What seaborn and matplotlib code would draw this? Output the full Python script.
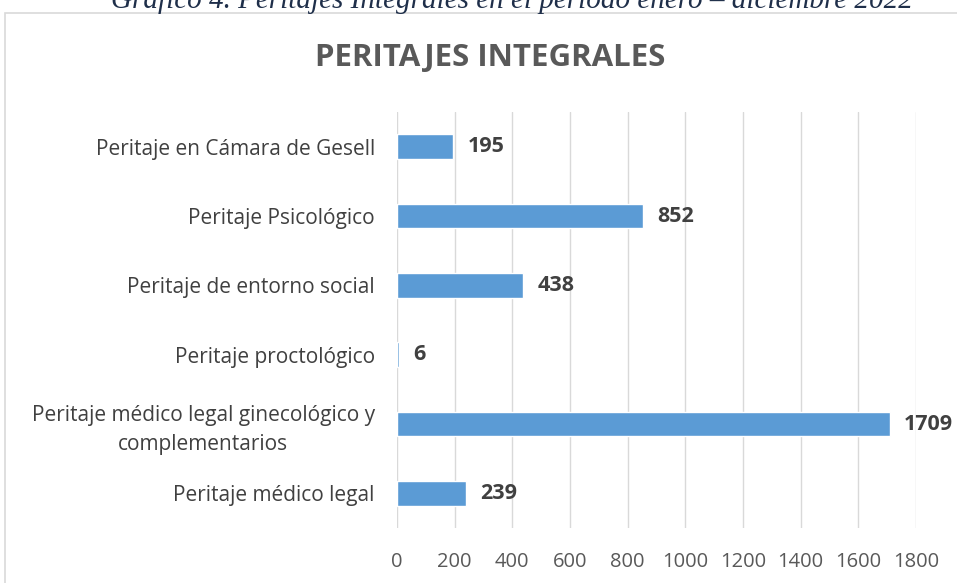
import matplotlib
matplotlib.use("Agg")
import matplotlib.pyplot as plt
import seaborn as sns
import pandas as pd
from matplotlib.patches import Rectangle

categories = [
    "Peritaje en Cámara de Gesell",
    "Peritaje Psicológico",
    "Peritaje de entorno social",
    "Peritaje proctológico",
    "Peritaje médico legal ginecológico y\ncomplementarios",
    "Peritaje médico legal",
]
values = [195, 852, 438, 6, 1709, 239]
xticks = [0, 200, 400, 600, 800, 1000, 1200, 1400, 1600, 1800]

df = pd.DataFrame({"cat": categories, "val": values})

sns.set_theme(style="white")
plt.rcParams['font.family'] = ['Open Sans', 'DejaVu Sans']

fig = plt.figure(figsize=(9.57, 5.83), dpi=100)
W, H = 957, 583
ax = fig.add_axes([397 / W, 1 - 528 / H, (916 - 397) / W, (528 - 112) / H])

sns.barplot(data=df, y="cat", x="val", orient="h", color="#5B9BD5",
            width=0.36, ax=ax, saturation=1)

ax.set_xlim(0, 1800)
ax.set_xticks(xticks)
ax.set_xticklabels([str(t) for t in xticks], fontsize=14.5, color="#595959")
ax.tick_params(axis="x", length=0, pad=17)
ax.tick_params(axis="y", length=0, pad=16)
for lab in ax.get_yticklabels():
    lab.set_fontsize(15)
    lab.set_color("#404040")
    lab.set_horizontalalignment("right")
    lab.set_multialignment("center")
    lab.set_linespacing(1.45)
ax.set_xlabel("")
ax.set_ylabel("")
ax.grid(axis="x", color="#D9D9D9", linewidth=1)
ax.set_axisbelow(True)
for s in ax.spines.values():
    s.set_visible(False)

for i, v in enumerate(values):
    ax.text(v + 50, i, str(v), va="center", ha="left", fontsize=15.5,
            fontweight="bold", color="#404040")

fig.text(490 / W, 1 - 58 / H, "PERITAJES INTEGRALES", ha="center", va="center",
         fontsize=22.5, fontweight="bold", color="#595959")

# chart border
fig.patches.append(Rectangle((5 / W, -0.1), 1.2, (1 - 13 / H) + 0.1,
                             transform=fig.transFigure, fill=False,
                             edgecolor="#D9D9D9", linewidth=1.2))

fig.text(512 / W, 1 - 1 / H, "Gráfico 4. Peritajes Integrales en el período enero – diciembre 2022",
         ha="center", va="center", fontsize=21, style="italic",
         family=["Liberation Serif", "DejaVu Serif"], color="#1F2F4A")

fig.savefig("out.png", dpi=100)
